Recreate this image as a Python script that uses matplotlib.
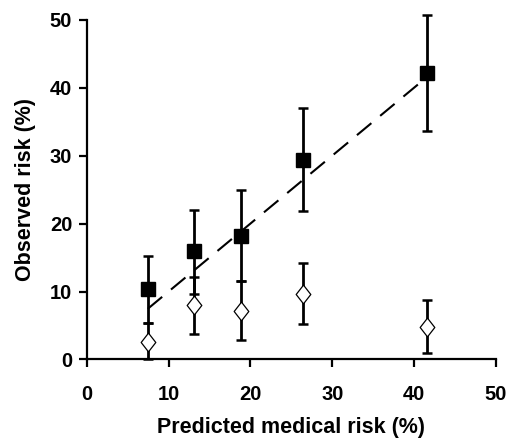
import matplotlib
matplotlib.use("Agg")
import matplotlib.pyplot as plt
import numpy as np

plt.rcParams['font.family'] = ['Liberation Sans', 'DejaVu Sans']
plt.rcParams['font.weight'] = 'bold'

# predicted medical risk (%) per group
predicted = [7.45, 13.1, 18.8, 26.4, 41.6]

# observed risk, filled squares
obs_sq = [10.3, 15.9, 18.2, 29.4, 42.2]
sq_lo = [5.3, 9.7, 11.5, 21.8, 33.7]
sq_hi = [15.2, 22.0, 25.0, 37.0, 50.7]

# observed risk, open diamonds
obs_dm = [2.6, 8.0, 7.2, 9.7, 4.8]
dm_lo = [0.0, 3.8, 2.9, 5.2, 1.0]
dm_hi = [5.3, 12.2, 11.5, 14.2, 8.7]

fig = plt.figure(figsize=(5.23, 4.41), dpi=100)
ax = fig.add_axes([0.166, 0.185, 0.782, 0.770])

# identity line y = x across the predicted range
ax.plot([predicted[0], predicted[-1]], [predicted[0], predicted[-1]],
        color='black', linewidth=1.5, dashes=(9, 5.5))

sq_err = [np.subtract(obs_sq, sq_lo), np.subtract(sq_hi, obs_sq)]
dm_err = [np.subtract(obs_dm, dm_lo), np.subtract(dm_hi, obs_dm)]

# slightly taller than wide, like the original diamonds
diamond = [(0, 1), (0.78, 0), (0, -1), (-0.78, 0), (0, 1)]

ax.errorbar(predicted, obs_dm, yerr=dm_err, fmt='none', ecolor='black',
            elinewidth=2, capsize=3.6, capthick=1.8, zorder=3, clip_on=False)
ax.plot(predicted, obs_dm, linestyle='none', marker=diamond, ms=13.5,
        mfc='white', mec='black', mew=0.9, zorder=3.5, clip_on=False)
ax.errorbar(predicted, obs_sq, yerr=sq_err, fmt='s', color='black',
            mfc='black', mec='black', ms=10,
            elinewidth=2, capsize=3.6, capthick=1.8, zorder=4, clip_on=False)

ax.set_xlim(0, 50)
ax.set_ylim(0, 50)
ax.set_xticks(np.arange(0, 51, 10))
ax.set_yticks(np.arange(0, 51, 10))
ax.spines['top'].set_visible(False)
ax.spines['right'].set_visible(False)
for s in ['left', 'bottom']:
    ax.spines[s].set_linewidth(1.6)
ax.tick_params(axis='both', direction='out', length=5.5, width=1.6,
               labelsize=14.5)
ax.tick_params(axis='x', pad=13)
ax.tick_params(axis='y', pad=5)
ax.set_xlabel('Predicted medical risk (%)', fontsize=15.5, fontweight='bold', labelpad=9)
ax.set_ylabel('Observed risk (%)', fontsize=15.5, fontweight='bold', labelpad=10)

fig.savefig('out.png', dpi=100)
